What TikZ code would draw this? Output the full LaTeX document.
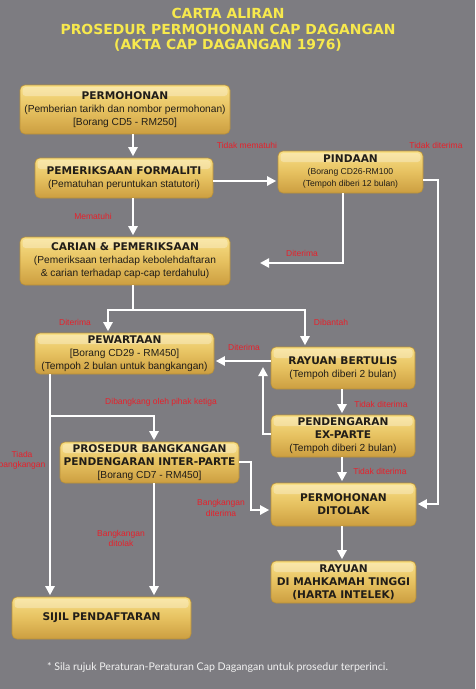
\documentclass[tikz,border=0pt]{standalone}
\usepackage{fontspec}
\setmainfont{Liberation Sans}
\newfontfamily\boldfam{DejaVu Sans}
\newfontfamily\footfam{Lato}
\usetikzlibrary{arrows.meta}
\definecolor{bg}{HTML}{7D7C81}
\definecolor{gold1}{HTML}{F8DF86}
\definecolor{gold2}{HTML}{E6C160}
\definecolor{gold3}{HTML}{CC9E40}
\definecolor{boxedge}{HTML}{B8903A}
\definecolor{boxtext}{HTML}{211D18}
\definecolor{lblred}{HTML}{E8202A}
\definecolor{ttlyel}{HTML}{F7E94D}
\definecolor{foot}{HTML}{F2F2F2}
\newcommand\tf{\boldfam\bfseries\fontsize{10.6}{13}\selectfont}
\begin{document}
\begin{tikzpicture}[x=1pt,y=-1pt,
  box/.style={draw=boxedge, line width=0.6pt, rounded corners=5pt,
    top color=gold1, bottom color=gold3, middle color=gold2,
    inner sep=0pt, align=center, text=boxtext,
    font=\fontsize{10.2}{13}\selectfont,
    path picture={\fill[white,opacity=0.3,rounded corners=3pt]
      ([xshift=2.5pt,yshift=-2pt]path picture bounding box.north west) rectangle
      ([xshift=-2.5pt,yshift=-11pt]path picture bounding box.north east);}},
  line/.style={draw=white, line width=2.5pt},
  arr/.style={line, -{Triangle[width=9pt,length=9pt]}, shorten >=1.5pt},
  lbl/.style={text=lblred, font=\fontsize{8.5}{10.5}\selectfont, align=center, inner sep=0pt},
  ttl/.style={text=ttlyel, font=\boldfam\bfseries\fontsize{13.9}{16}\selectfont, inner sep=0pt}
]
\fill[bg] (0,0) rectangle (475,689);
\useasboundingbox (0,0) rectangle (475,689);
\clip (0,0) rectangle (475,689);

% title
\node[ttl] (t1) at (228,13) {CARTA ALIRAN};
\node[ttl] (t2) at (228,29) {PROSEDUR PERMOHONAN CAP DAGANGAN};
\node[ttl] (t3) at (228,45) {(AKTA CAP DAGANGAN 1976)};

% boxes
\node[box, minimum width=210pt, minimum height=49pt] (perm) at (125,109.5)
  {{\tf PERMOHONAN}\\(Pemberian tarikh dan nombor permohonan)\\{[Borang CD5 - RM250]}};
\node[box, minimum width=178pt, minimum height=40pt] (form) at (124,178)
  {{\tf PEMERIKSAAN FORMALITI}\\(Pematuhan peruntukan statutori)};
\node[box, minimum width=145pt, minimum height=42pt, font=\fontsize{8.6}{12}\selectfont] (pind) at (350.5,172)
  {{\tf PINDAAN}\\(Borang CD26-RM100\\(Tempoh diberi 12 bulan)};
\node[box, minimum width=210pt, minimum height=48pt] (carian) at (125,261)
  {{\tf CARIAN \& PEMERIKSAAN}\\(Pemeriksaan terhadap kebolehdaftaran\\\& carian terhadap cap-cap terdahulu)};
\node[box, minimum width=179pt, minimum height=41pt] (pew) at (124.5,353.5)
  {{\tf PEWARTAAN}\\{[Borang CD29 - RM450]}\\(Tempoh 2 bulan untuk bangkangan)};
\node[box, minimum width=144pt, minimum height=42pt] (rayuan) at (343,368)
  {{\tf RAYUAN BERTULIS}\\(Tempoh diberi 2 bulan)};
\node[box, minimum width=144pt, minimum height=42pt] (exparte) at (343,436)
  {{\tf PENDENGARAN}\\{\tf EX-PARTE}\\(Tempoh diberi 2 bulan)};
\node[box, minimum width=179pt, minimum height=41pt] (prosedur) at (149.5,462.5)
  {{\tf PROSEDUR BANGKANGAN}\\{\tf PENDENGARAN INTER-PARTE}\\{[Borang CD7 - RM450]}};
\node[box, minimum width=145pt, minimum height=43pt] (ditolak) at (343.5,504.5)
  {{\tf PERMOHONAN}\\{\tf DITOLAK}};
\node[box, minimum width=145pt, minimum height=42pt] (mahkamah) at (343.5,582)
  {{\tf RAYUAN}\\{\tf DI MAHKAMAH TINGGI}\\{\tf (HARTA INTELEK)}};
\node[box, minimum width=179pt, minimum height=42pt] (sijil) at (101.5,618)
  {{\tf SIJIL PENDAFTARAN}};

% coordinates
\coordinate (xA) at (133,0);
\coordinate (yB) at (0,181);
\coordinate (c1) at (343,263);
\coordinate (c1e) at (258.5,263);
\coordinate (d1) at (438,180);
\coordinate (d2) at (438,504);
\coordinate (f0) at (133,310);
\coordinate (f1) at (108,310);
\coordinate (f2) at (305,310);
\coordinate (yG) at (0,361);
\coordinate (h1) at (263,434);
\coordinate (h2) at (263,365.5);
\coordinate (xI) at (342,0);
\coordinate (xK) at (50,0);
\coordinate (k1) at (50,416);
\coordinate (k2) at (154,416);
\coordinate (m1) at (251,462);
\coordinate (m2) at (251,510);

% connectors
\draw[arr] (perm.south -| xA) -- (form.north -| xA);
\draw[arr] (form.east |- yB) -- (pind.west |- yB);
\draw[arr] (pind.south -| c1) -- (c1) -- (c1e);
\draw[arr] (pind.east |- d1) -- (d1) -- (d2) -- (ditolak.east |- d2);
\draw[arr] (form.south -| xA) -- (carian.north -| xA);
\draw[line] (carian.south -| xA) -- (f0);
\draw[arr] (f0) -- (f1) -- (pew.north -| f1);
\draw[arr] (f0) -- (f2) -- (rayuan.north -| f2);
\draw[arr] (rayuan.west |- yG) -- (pew.east |- yG);
\draw[arr] (exparte.west |- h1) -- (h1) -- (h2);
\draw[arr] (rayuan.south -| xI) -- (exparte.north -| xI);
\draw[arr] (exparte.south -| xI) -- (ditolak.north -| xI);
\draw[arr] (ditolak.south -| xI) -- (mahkamah.north -| xI);
\draw[arr] (pew.south -| xK) -- (sijil.north -| xK);
\draw[arr] (k1) -- (k2) -- (prosedur.north -| k2);
\draw[arr] (prosedur.south -| k2) -- (sijil.north -| k2);
\draw[arr] (prosedur.east |- m1) -- (m1) -- (m2) -- (ditolak.west |- m2);

% labels
\node[lbl] (l1) at (247,145) {Tidak mematuhi};
\node[lbl] (l2) at (436,145) {Tidak diterima};
\node[lbl] (l3) at (302,253) {Diterima};
\node[lbl] (l4) at (93,216) {Mematuhi};
\node[lbl] (l5) at (75,322) {Diterima};
\node[lbl] (l6) at (331,322) {Dibantah};
\node[lbl] (l7) at (244,347) {Diterima};
\node[lbl] (l8) at (381,404) {Tidak diterima};
\node[lbl] (l9) at (380,471) {Tidak diterima};
\node[lbl] (l10) at (161,402) {Dibangkang oleh pihak ketiga};
\node[lbl] (l11) at (22,460.5) {Tiada\\bangkangan};
\node[lbl] (l12) at (121,538.5) {Bangkangan\\ditolak};
\node[lbl] (l13) at (221,508) {Bangkangan\\diterima};

% footnote
\node[text=foot, font=\footfam\fontsize{10.6}{12}\selectfont, inner sep=0pt] (fn) at (217.5,667)
  {* Sila rujuk Peraturan-Peraturan Cap Dagangan untuk prosedur terperinci.};
\end{tikzpicture}
\end{document}
